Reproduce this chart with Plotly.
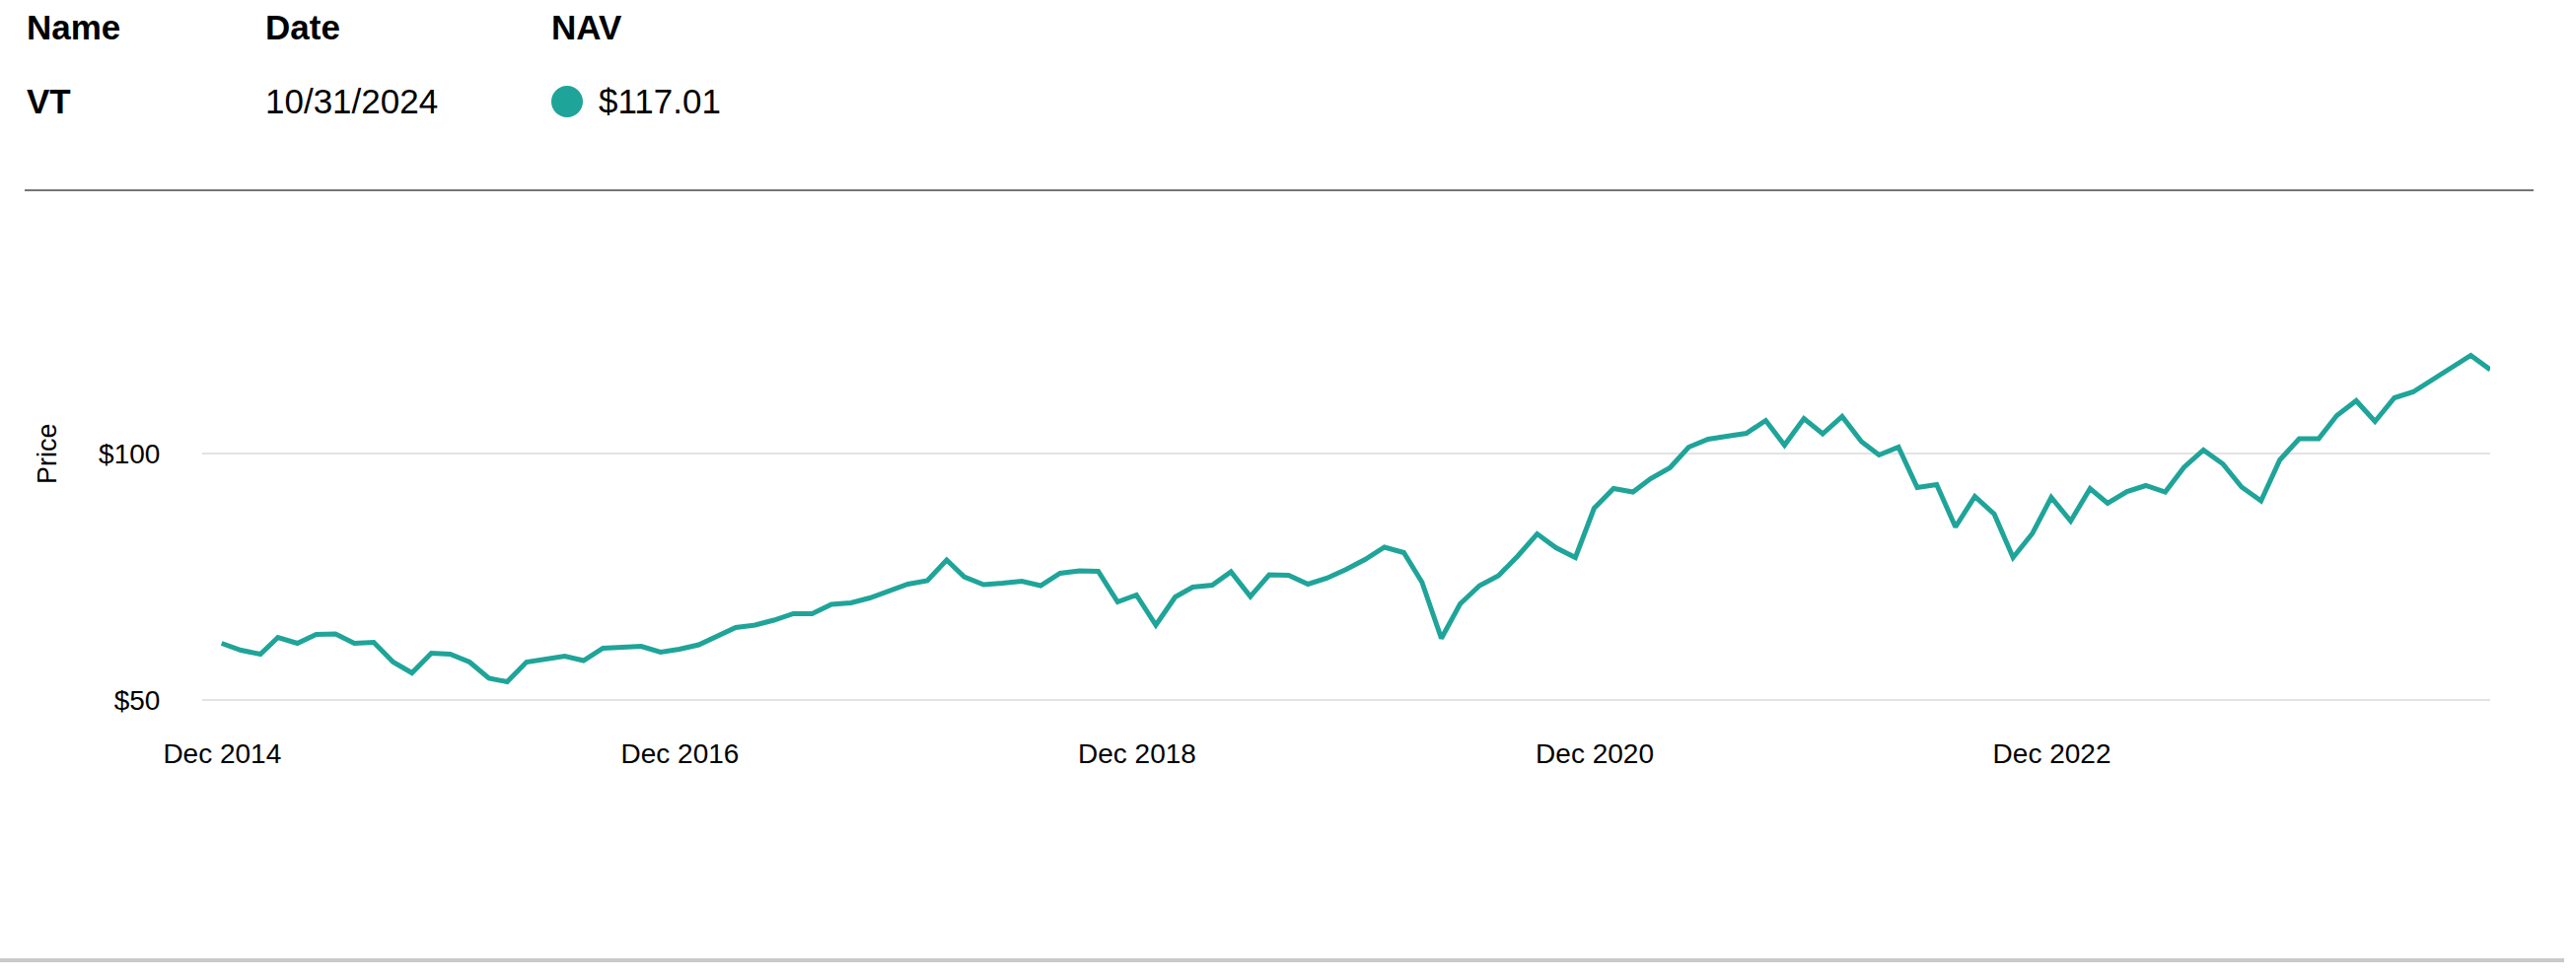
import calendar
import datetime as dt
import plotly.graph_objects as go

# ---------------- data ----------------
fund_name = "VT"
as_of_date = "10/31/2024"
nav_label = "$117.01"

start_year, start_month, n_months = 2014, 11, 120

nav_values = [
    61.5, 60.1, 59.3, 62.7, 61.5, 63.3, 63.4, 61.5, 61.7, 57.7,
    55.5, 59.5, 59.3, 57.7, 54.4, 53.7, 57.7, 58.4, 58.9, 58.0,
    60.5, 60.7, 60.9, 59.7, 60.3, 61.2, 62.9, 64.7, 65.2, 66.2,
    67.5, 67.5, 69.4, 69.7, 70.7, 72.1, 73.5, 74.2, 78.4, 75.0,
    73.4, 73.7, 74.1, 73.2, 75.7, 76.2, 76.1, 69.9, 71.3, 65.2,
    70.9, 72.9, 73.3, 76.0, 71.0, 75.4, 75.3, 73.5, 74.7, 76.5,
    78.5, 81.0, 79.9, 73.9, 62.5, 69.5, 73.2, 75.2, 79.2, 83.7,
    80.9, 78.9, 88.9, 92.9, 92.2, 94.9, 97.1, 101.3, 102.9, 103.5,
    104.1, 106.7, 101.7, 107.1, 104.0, 107.5, 102.4, 99.7, 101.3, 93.1,
    93.7, 85.1, 91.3, 87.7, 78.9, 83.8, 91.1, 86.3, 92.9, 89.9,
    92.3, 93.5, 92.2, 97.2, 100.7, 97.9, 93.2, 90.4, 98.7, 103.0,
    103.0, 107.7, 110.7, 106.5, 111.3, 112.5, 115.0, 117.7, 119.9, 117.01,
]

x_tick_dates = ["2014-12-01", "2016-12-01", "2018-12-01", "2020-12-01", "2022-12-01"]
x_tick_labels = ["Dec 2014", "Dec 2016", "Dec 2018", "Dec 2020", "Dec 2022"]
y_tick_values = [50, 100]
y_tick_labels = ["$50", "$100"]

# month-end dates
dates = []
y, m = start_year, start_month
for _ in range(n_months):
    dates.append(dt.date(y, m, calendar.monthrange(y, m)[1]))
    m += 1
    if m > 12:
        m, y = 1, y + 1

# ---------------- layout helpers ----------------
W, H = 2612, 994
TEAL = "#1fa499"
FONT = "Liberation Sans"


def px(xp):
    return xp / W


def py(yp):
    return 1 - yp / H


fig = go.Figure()
fig.add_trace(go.Scatter(
    x=dates, y=nav_values, mode="lines",
    line=dict(color=TEAL, width=5),
    hoverinfo="skip", showlegend=False,
))

plot_left, plot_right = 205, 2525
plot_top, plot_bottom = 250, 720

fig.update_layout(
    width=W, height=H,
    margin=dict(l=0, r=0, t=0, b=0, pad=0),
    paper_bgcolor="white", plot_bgcolor="white",
    font=dict(family=FONT, color="#000000"),
    xaxis=dict(
        type="date", automargin=False,
        domain=[px(plot_left), px(plot_right)],
        range=["2014-10-30", "2024-10-31"],
        tickvals=x_tick_dates, ticktext=x_tick_labels,
        tickfont=dict(size=28, color="#000000", family=FONT),
        showgrid=False, zeroline=False, showline=False,
        ticks="outside", ticklen=19, tickcolor="rgba(0,0,0,0)",
    ),
    yaxis=dict(
        automargin=False,
        domain=[py(plot_bottom), py(plot_top)],
        range=[48, 142],
        tickvals=y_tick_values, ticktext=y_tick_labels,
        tickfont=dict(size=28, color="#000000", family=FONT),
        showgrid=True, gridcolor="#e3e3e3", gridwidth=2,
        zeroline=False, showline=False,
        ticks="outside", ticklen=36, tickcolor="rgba(0,0,0,0)",
    ),
)

header_font = dict(family=FONT, size=35, color="#000000")
anns = [
    ("<b>Name</b>", 25, 27),
    ("<b>Date</b>", 267, 27),
    ("<b>NAV</b>", 557, 27),
    ("<b>" + fund_name + "</b>", 25, 102),
    (as_of_date, 267, 102),
    (nav_label, 605, 102),
]
for text, x, yv in anns:
    fig.add_annotation(
        text=text, x=px(x), y=py(yv), xref="paper", yref="paper",
        xanchor="left", yanchor="middle", showarrow=False,
        font=header_font,
    )

fig.add_annotation(
    text="Price", x=px(48), y=py(460), xref="paper", yref="paper",
    xanchor="center", yanchor="middle", showarrow=False, textangle=-90,
    font=dict(family=FONT, size=27, color="#000000"),
)

# legend dot
fig.add_shape(type="circle", xref="paper", yref="paper",
              x0=px(559), x1=px(591), y0=py(119), y1=py(87),
              fillcolor=TEAL, line=dict(width=0))
# separator lines
fig.add_shape(type="line", xref="paper", yref="paper",
              x0=px(25), x1=px(2569), y0=py(193), y1=py(193),
              line=dict(color="#757575", width=2))
fig.add_shape(type="line", xref="paper", yref="paper",
              x0=0, x1=px(2600), y0=py(974), y1=py(974),
              line=dict(color="#cacaca", width=4))

fig.write_html(
    "out.html",
    config={"displayModeBar": False},
    post_script="document.body.style.margin='0';document.body.style.overflow='hidden';",
)
